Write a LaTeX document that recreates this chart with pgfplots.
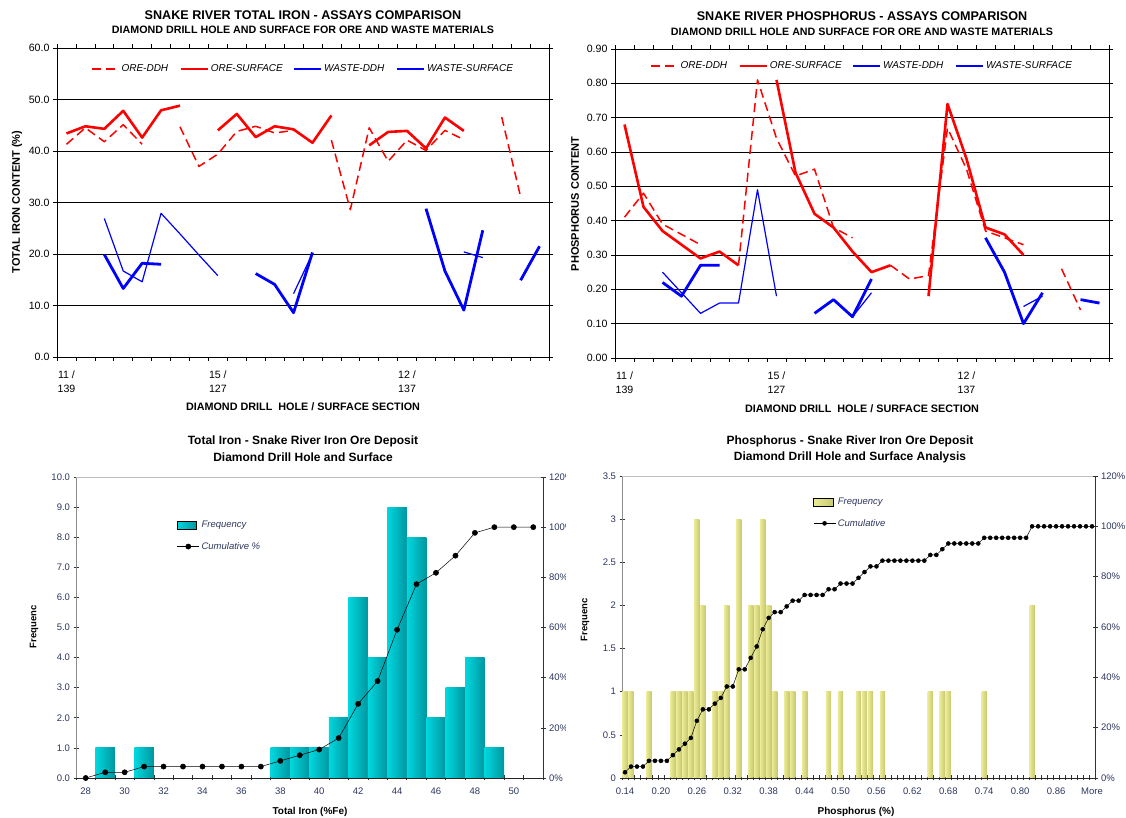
\documentclass[border=0pt]{standalone}
\usepackage{fontspec}
\setmainfont{Liberation Sans}
\usepackage{pgfplots}
\usepackage{pgfplotstable}
\pgfplotsset{compat=1.18}

\definecolor{oreRed}{RGB}{255,0,0}
\definecolor{wasteBlue}{RGB}{0,0,255}
\definecolor{axisInk}{RGB}{45,55,95}
\definecolor{tealEdge}{RGB}{0,215,222}
\definecolor{cyanLight}{RGB}{150,255,255}
\definecolor{tealDark}{RGB}{0,150,160}
\definecolor{oliveEdge}{RGB}{235,235,150}
\definecolor{creamLight}{RGB}{255,255,205}
\definecolor{oliveDark}{RGB}{200,200,115}

\pgfplotsset{/pgf/number format/assume math mode=true}

% Total iron assays per section (nan = no sample)
\pgfplotstableread{
i oreddh oresurf wasteddh wastesurf
0 41.3 43.4 nan nan
1 44.5 44.8 nan nan
2 41.8 44.3 26.9 19.9
3 45.1 47.8 16.7 13.3
4 41.3 42.6 14.6 18.2
5 nan 47.9 27.9 18.0
6 44.7 48.8 23.9 nan
7 37.0 nan 19.8 nan
8 39.4 44.0 15.8 nan
9 43.8 47.2 nan nan
10 44.8 42.7 nan 16.2
11 43.5 44.8 nan 14.1
12 44.0 44.2 12.3 8.6
13 nan 41.6 20.1 20.3
14 42.1 46.9 nan nan
15 28.6 nan nan nan
16 44.5 41.1 nan nan
17 38.0 43.7 nan nan
18 42.1 43.9 nan nan
19 40.1 40.5 nan 28.8
20 44.0 46.5 nan 16.7
21 42.2 43.9 20.4 9.1
22 nan nan 19.3 24.6
23 46.6 nan nan nan
24 31.1 nan nan 14.9
25 nan nan nan 21.5
}\ironassay

% Phosphorus assays per section
\pgfplotstableread{
i oreddh oresurf wasteddh wastesurf
0 0.41 0.68 nan nan
1 0.48 0.44 nan nan
2 0.39 0.37 0.25 0.22
3 0.36 0.33 0.19 0.18
4 0.33 0.29 0.13 0.27
5 nan 0.31 0.16 0.27
6 0.27 0.27 0.16 nan
7 0.81 nan 0.49 nan
8 0.64 0.81 0.18 nan
9 0.53 0.54 nan nan
10 0.55 0.42 nan 0.13
11 0.38 0.38 nan 0.17
12 0.35 0.31 0.12 0.12
13 nan 0.25 0.19 0.23
14 0.27 0.27 nan nan
15 0.23 nan nan nan
16 0.24 0.18 nan nan
17 0.67 0.74 nan nan
18 0.55 0.58 nan nan
19 0.37 0.38 nan 0.35
20 0.35 0.36 nan 0.25
21 0.33 0.30 0.15 0.10
22 nan nan 0.18 0.19
23 0.26 nan nan nan
24 0.14 nan nan 0.17
25 nan nan nan 0.16
}\phosassay

% Total iron histogram (bin, frequency, cumulative %)
\pgfplotstableread{
bin freq cum
28 0 0
29 1 2.27
30 0 2.27
31 1 4.55
32 0 4.55
33 0 4.55
34 0 4.55
35 0 4.55
36 0 4.55
37 0 4.55
38 1 6.82
39 1 9.09
40 1 11.36
41 2 15.91
42 6 29.55
43 4 38.64
44 9 59.09
45 8 77.27
46 2 81.82
47 3 88.64
48 4 97.73
49 1 100
50 0 100
51 0 100
}\irondist

% Phosphorus histogram: idx 0 = 0.14, step 0.01, idx 78 = More
\pgfplotstableread{
idx freq cum
0 1 2.27
1 1 4.55
2 0 4.55
3 0 4.55
4 1 6.82
5 0 6.82
6 0 6.82
7 0 6.82
8 1 9.09
9 1 11.36
10 1 13.64
11 1 15.91
12 3 22.73
13 2 27.27
14 0 27.27
15 1 29.55
16 1 31.82
17 2 36.36
18 0 36.36
19 3 43.18
20 0 43.18
21 2 47.73
22 2 52.27
23 3 59.09
24 2 63.64
25 1 65.91
26 0 65.91
27 1 68.18
28 1 70.45
29 0 70.45
30 1 72.73
31 0 72.73
32 0 72.73
33 0 72.73
34 1 75.00
35 0 75.00
36 1 77.27
37 0 77.27
38 0 77.27
39 1 79.55
40 1 81.82
41 1 84.09
42 0 84.09
43 1 86.36
44 0 86.36
45 0 86.36
46 0 86.36
47 0 86.36
48 0 86.36
49 0 86.36
50 0 86.36
51 1 88.64
52 0 88.64
53 1 90.91
54 1 93.18
55 0 93.18
56 0 93.18
57 0 93.18
58 0 93.18
59 0 93.18
60 1 95.45
61 0 95.45
62 0 95.45
63 0 95.45
64 0 95.45
65 0 95.45
66 0 95.45
67 0 95.45
68 2 100
69 0 100
70 0 100
71 0 100
72 0 100
73 0 100
74 0 100
75 0 100
76 0 100
77 0 100
78 0 100
}\phosdist

\pgfplotsset{
  assay/.style={
    scale only axis, anchor=south west,
    xmin=-0.5, xmax=25.5,
    xtick={-0.5,0.5,...,25.5}, xticklabels={},
    extra x ticks={0,8,18},
    extra x tick labels={{11 /\\139},{15 /\\127},{12 /\\137}},
    extra x tick style={major tick length=0pt,
      tick label style={align=center, yshift=-10pt}},
    tick align=outside, major tick length=4pt,
    tick style={black, line width=0.6pt},
    tick label style={font=\fontsize{10.6}{14}\selectfont},
    ymajorgrids, major grid style={black, line width=0.6pt},
    axis line style={black, line width=0.8pt},
    unbounded coords=jump,
    legend columns=4,
    legend style={draw=none, fill=none, inner sep=0pt, anchor=center,
      font=\itshape\fontsize{10}{12}\selectfont,
      /tikz/every even column/.append style={column sep=9pt}},
    legend image code/.code={\draw[##1] (0pt,0pt) -- (27pt,0pt);},
  },
  ddh/.style={oreRed, line width=1.5pt, dash pattern=on 9pt off 5pt, line join=round},
  oresurf/.style={oreRed, line width=2.6pt, line join=round},
  wddh/.style={wasteBlue, line width=1.2pt, line join=round},
  wsurf/.style={wasteBlue, line width=2.8pt, line join=round},
  histo/.style={
    scale only axis, anchor=south west,
    tick align=center, major tick length=5pt,
    tick style={black!80, line width=0.6pt},
    tick label style={font=\fontsize{9.5}{11}\selectfont, text=axisInk},
  },
  histlegend/.style={legend style={draw=none, fill=none, inner sep=0pt,
      font=\itshape\fontsize{9.5}{11}\selectfont, text=axisInk,
      row sep=9pt, cells={anchor=west}}},
  cumline/.style={legend image code/.code={\draw[mark repeat=2, mark phase=2, ##1]
      plot coordinates {(0pt,0pt) (11pt,0pt) (22pt,0pt)};}},
  cyanbar/.style={ybar, bar shift=0pt, draw=none, left color=tealEdge,
      middle color=cyanLight, right color=tealDark},
  creambar/.style={ybar, bar shift=0pt, draw=none, left color=oliveEdge,
      middle color=creamLight, right color=oliveDark},
  ironbox/.style={legend image code/.code={\path[left color=tealEdge,
      middle color=cyanLight, right color=tealDark] (0pt,-4pt) rectangle (19pt,4pt);}},
  phosbox/.style={legend image code/.code={\path[left color=oliveEdge,
      middle color=creamLight, right color=oliveDark] (0pt,-4pt) rectangle (20pt,4pt);}},
}

\begin{document}
\begin{tikzpicture}[x=1pt,y=1pt]
\path[use as bounding box] (0,0) rectangle (1126,818);

% ---------------- Total iron assays ----------------
\node[font=\bfseries\fontsize{12.6}{15}\selectfont] at (303,803) {SNAKE RIVER TOTAL IRON - ASSAYS COMPARISON};
\node[font=\bfseries\fontsize{10.7}{13}\selectfont] at (303,788) {DIAMOND DRILL HOLE AND SURFACE FOR ORE AND WASTE MATERIALS};
\node[font=\bfseries\fontsize{11}{13}\selectfont, rotate=90] at (17,616) {TOTAL IRON CONTENT (\%)};
\node[font=\bfseries\fontsize{10.8}{13}\selectfont] at (303,411) {DIAMOND DRILL\ \ HOLE / SURFACE SECTION};

\begin{axis}[assay, at={(57pt,461pt)}, width=492pt, height=309pt,
  ymin=0, ymax=60, ytick={0,10,...,60},
  yticklabel style={/pgf/number format/fixed, /pgf/number format/fixed zerofill,
    /pgf/number format/precision=1},
  legend style={at={(0.5,0.932)}}]
\addplot[ddh] table[x=i,y=oreddh]{\ironassay};
\addplot[oresurf] table[x=i,y=oresurf]{\ironassay};
\addplot[wddh] table[x=i,y=wasteddh]{\ironassay};
\addplot[wsurf] table[x=i,y=wastesurf]{\ironassay};
\legend{ORE-DDH,ORE-SURFACE,WASTE-DDH,WASTE-SURFACE}
\end{axis}

% ---------------- Phosphorus assays ----------------
\node[font=\bfseries\fontsize{12.6}{15}\selectfont] at (862,802) {SNAKE RIVER PHOSPHORUS - ASSAYS COMPARISON};
\node[font=\bfseries\fontsize{10.7}{13}\selectfont] at (862,786) {DIAMOND DRILL HOLE AND SURFACE FOR ORE AND WASTE MATERIALS};
\node[font=\bfseries\fontsize{11}{13}\selectfont, rotate=90] at (575,614) {PHOSPHORUS CONTENT};
\node[font=\bfseries\fontsize{10.8}{13}\selectfont] at (862,409) {DIAMOND DRILL\ \ HOLE / SURFACE SECTION};

\begin{axis}[assay, at={(615pt,460pt)}, width=494pt, height=309pt,
  ymin=0, ymax=0.9, ytick={0,0.1,0.2,0.3,0.4,0.5,0.6,0.7,0.8,0.9},
  yticklabel style={/pgf/number format/fixed, /pgf/number format/fixed zerofill,
    /pgf/number format/precision=2},
  legend style={at={(0.5,0.945)}}]
\addplot[ddh] table[x=i,y=oreddh]{\phosassay};
\addplot[oresurf] table[x=i,y=oresurf]{\phosassay};
\addplot[wddh] table[x=i,y=wasteddh]{\phosassay};
\addplot[wsurf] table[x=i,y=wastesurf]{\phosassay};
\legend{ORE-DDH,ORE-SURFACE,WASTE-DDH,WASTE-SURFACE}
\end{axis}

% ---------------- Total iron histogram ----------------
\node[font=\bfseries\fontsize{12}{14}\selectfont] at (303,377) {Total Iron - Snake River Iron Ore Deposit};
\node[font=\bfseries\fontsize{12}{14}\selectfont] at (303,361) {Diamond Drill Hole and Surface};
\node[font=\bfseries\fontsize{9.5}{11}\selectfont, rotate=90] at (34,191) {Frequenc};
\node[font=\bfseries\fontsize{10}{12}\selectfont] at (310,6) {Total Iron (\%Fe)};

\begin{axis}[histo, at={(76pt,40pt)}, width=467pt, height=301pt,
  xmin=27.5, xmax=51.5, ymin=0, ymax=10,
  axis x line*=bottom, axis y line*=left,
  x axis line style={black!85, line width=0.9pt},
  y axis line style={black!45, line width=0.8pt},
  xtick={27.5,28.5,...,51.5}, xticklabels={},
  extra x ticks={28,30,...,50},
  extra x tick labels={28,30,32,34,36,38,40,42,44,46,48,50},
  extra x tick style={major tick length=0pt, tick label style={yshift=-6pt}},
  ytick={0,1,...,10},
  yticklabel style={/pgf/number format/fixed, /pgf/number format/fixed zerofill,
    /pgf/number format/precision=1}]
% one plot per occupied bin so that every bar carries its own shading
\pgfplotsinvokeforeach{29,31,38,39,40,41,42,43,44,45,46,47,48,49}{
  \addplot[cyanbar, bar width=1, restrict x to domain=#1:#1]
    table[x=bin,y=freq]{\irondist};
}
\draw[black!25, line width=0.8pt] (rel axis cs:0,1) -- (rel axis cs:1,1);
\end{axis}

\begin{axis}[histo, histlegend, at={(76pt,40pt)}, width=467pt, height=301pt,
  xmin=27.5, xmax=51.5, ymin=0, ymax=120,
  axis x line=none, axis y line*=right,
  y axis line style={black!80, line width=0.9pt},
  ytick={0,20,...,120}, yticklabel={\pgfmathprintnumber{\tick}\%},
  legend style={at={(0.216,0.86)}, anchor=north west}]
\addlegendimage{ironbox}
\addlegendentry{Frequency}
\addplot[black, line width=0.5pt, mark=*, mark size=2.6pt, cumline]
  table[x=bin,y=cum]{\irondist};
\addlegendentry{Cumulative \%}
\end{axis}

% the phosphorus panel sits over the right edge of the iron panel
\fill[white] (566,0) rectangle (1126,395);

% ---------------- Phosphorus histogram ----------------
\node[font=\bfseries\fontsize{12}{14}\selectfont] at (850,377) {Phosphorus - Snake River Iron Ore Deposit};
\node[font=\bfseries\fontsize{12}{14}\selectfont] at (850,361) {Diamond Drill Hole and Surface Analysis};
\node[font=\bfseries\fontsize{9.5}{11}\selectfont, rotate=90] at (585,198) {Frequenc};
\node[font=\bfseries\fontsize{10}{12}\selectfont] at (856,6) {Phosphorus (\%)};

\begin{axis}[histo, at={(622pt,40pt)}, width=473pt, height=302pt,
  xmin=-0.5, xmax=78.5, ymin=0, ymax=3.5,
  axis x line*=bottom, axis y line*=left,
  x axis line style={black!85, line width=0.9pt},
  y axis line style={black!45, line width=0.8pt},
  xtick={-0.5,0.5,...,78.5}, xticklabels={},
  extra x ticks={0,6,...,78},
  extra x tick labels={0.14,0.20,0.26,0.32,0.38,0.44,0.50,0.56,0.62,0.68,0.74,0.80,0.86,More},
  extra x tick style={major tick length=0pt, tick label style={yshift=-6pt}},
  ytick={0,0.5,...,3.5}]
\pgfplotsinvokeforeach{0,1,4,8,9,10,11,12,13,15,16,17,19,21,22,23,24,25,27,28,30,34,36,39,40,41,43,51,53,54,60,68}{
  \addplot[creambar, bar width=0.88, restrict x to domain=#1:#1]
    table[x=idx,y=freq]{\phosdist};
}
\draw[black!25, line width=0.8pt] (rel axis cs:0,1) -- (rel axis cs:1,1);
\end{axis}

\begin{axis}[histo, histlegend, at={(622pt,40pt)}, width=473pt, height=302pt,
  xmin=-0.5, xmax=78.5, ymin=0, ymax=120,
  axis x line=none, axis y line*=right,
  y axis line style={black!80, line width=0.9pt},
  ytick={0,20,...,120}, yticklabel={\pgfmathprintnumber{\tick}\%},
  legend style={at={(0.404,0.934)}, anchor=north west}]
\addlegendimage{phosbox}
\addlegendentry{Frequency}
\addplot[black, line width=0.5pt, mark=*, mark size=2pt, cumline]
  table[x=idx,y=cum]{\phosdist};
\addlegendentry{Cumulative}
\end{axis}

\end{tikzpicture}
\end{document}
